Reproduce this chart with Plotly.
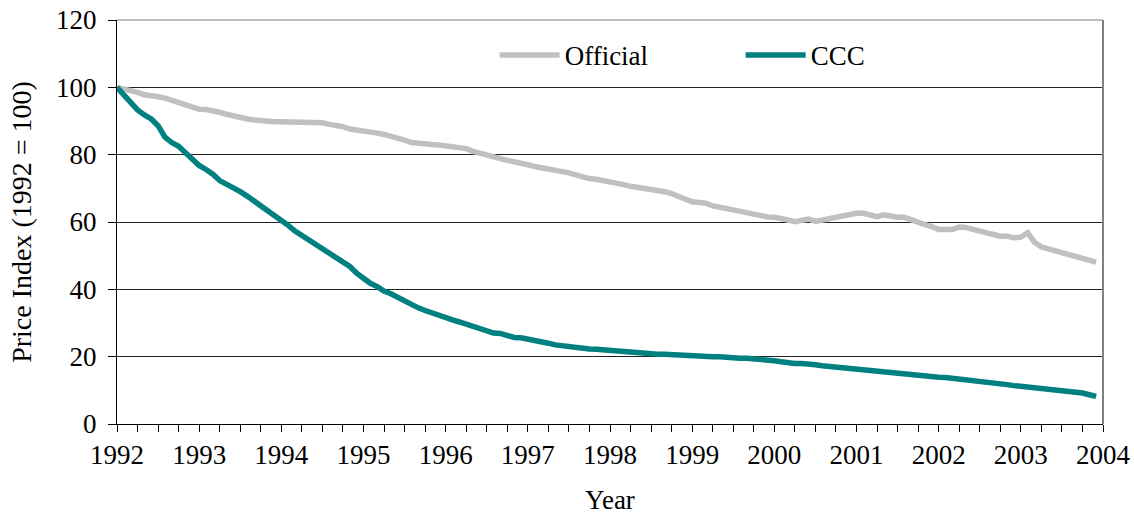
import plotly.graph_objects as go

start_year = 1992
official = [
    100.0, 99.6, 99.2, 98.5, 97.8, 97.3, 97.2, 96.8, 96.2, 95.5, 95.0, 94.2,
    93.5, 93.4, 93.2, 92.6, 92.0, 91.4, 91.0, 90.6, 90.3, 90.0, 89.9, 89.8,
    89.8, 89.8, 89.8, 89.8, 89.7, 89.8, 89.5, 89.0, 88.8, 88.3, 87.6, 87.4,
    87.1, 87.0, 86.4, 86.0, 85.5, 85.2, 84.3, 83.6, 83.3, 83.1, 83.0, 82.9,
    82.6, 82.4, 82.2, 81.8, 81.0, 80.4, 79.8, 79.2, 78.8, 78.3, 77.9, 77.6,
    77.0, 76.5, 76.2, 75.9, 75.4, 75.0, 74.6, 74.0, 73.4, 72.9, 72.7, 72.4,
    71.8, 71.5, 71.1, 70.6, 70.3, 70.1, 69.8, 69.3, 69.0, 68.4, 67.5, 66.6,
    66.0, 65.8, 65.6, 64.8, 64.2, 64.0, 63.6, 63.1, 62.6, 62.2, 61.8, 61.5,
    61.4, 61.2, 60.6, 60.1, 60.4, 60.9, 60.2, 60.6, 60.9, 61.4, 62.0, 62.5,
    62.6, 62.6, 61.9, 61.6, 62.1, 61.7, 61.4, 61.4, 60.6, 59.7, 59.2, 58.6,
    57.8, 57.8, 57.8, 58.5, 58.4, 57.8, 57.3, 57.0, 56.3, 55.8, 55.8, 55.3,
    55.5, 56.8, 54.0, 52.6, 52.0, 51.4, 50.8, 50.2, 49.5, 49.2, 48.6, 48.1,
]
ccc = [
    100.0, 97.8, 95.8, 93.3, 91.8, 90.6, 88.6, 85.2, 83.6, 82.5, 80.6, 78.4,
    76.8, 75.6, 74.2, 72.3, 71.3, 70.0, 69.0, 67.7, 66.3, 64.8, 63.2, 61.8,
    60.4, 59.0, 57.3, 56.0, 54.8, 53.6, 52.0, 50.6, 49.4, 48.2, 46.8, 44.8,
    43.2, 41.8, 40.8, 39.5, 38.7, 37.6, 36.4, 35.6, 34.5, 33.7, 32.9, 32.2,
    31.6, 30.9, 30.3, 29.7, 29.1, 28.3, 27.6, 27.0, 26.9, 26.3, 25.7, 25.6,
    25.3, 24.6, 24.3, 24.0, 23.5, 23.2, 22.9, 22.7, 22.5, 22.3, 22.2, 22.0,
    21.8, 21.5, 21.3, 21.1, 21.0, 20.7, 20.7, 20.7, 20.7, 20.6, 20.2, 20.0,
    20.0, 20.0, 20.0, 20.0, 20.0, 19.7, 19.5, 19.5, 19.5, 19.4, 19.0, 18.8,
    18.8, 18.5, 18.1, 18.0, 18.0, 18.0, 17.6, 17.3, 17.1, 16.7, 16.5, 16.2,
    15.9, 15.7, 15.5, 15.4, 15.2, 15.0, 14.9, 14.7, 14.5, 14.3, 14.2, 14.1,
    13.9, 13.8, 13.6, 13.4, 13.2, 13.0, 12.8, 12.5, 12.3, 12.0, 11.7, 11.4,
    11.2, 11.0, 10.9, 10.7, 10.4, 10.2, 10.0, 9.8, 9.6, 9.2, 8.7, 8.2,
]
year_ticks = list(range(1992, 2005))
y_ticks = [0, 20, 40, 60, 80, 100, 120]

x = [start_year + i / 12 for i in range(len(official))]

FONT = "Liberation Serif, Times New Roman, serif"

fig = go.Figure()
fig.add_trace(go.Scatter(x=x, y=official, mode="lines", name="Official",
                         line=dict(color="#C0C0C0", width=5.5)))
fig.add_trace(go.Scatter(x=x, y=ccc, mode="lines", name="CCC",
                         line=dict(color="#008080", width=5.5)))

fig.update_layout(
    width=1134, height=515,
    margin=dict(l=117, r=31, t=20, b=91, autoexpand=False),
    paper_bgcolor="white", plot_bgcolor="white",
    font=dict(family=FONT, size=27, color="black"),
    showlegend=True,
    legend=dict(orientation="h", x=0.383, y=0.973, xanchor="left", yanchor="top",
                font=dict(size=27), entrywidth=171, bgcolor="rgba(0,0,0,0)",
                itemwidth=60),
    xaxis=dict(
        range=[1992, 2004], tickmode="array", tickvals=year_ticks,
        ticktext=[str(v) for v in year_ticks], automargin=False,
        showgrid=False, zeroline=False,
        showline=True, linecolor="black", linewidth=1,
        ticks="outside", ticklen=7, tickcolor="black",
        minor=dict(dtick=0.25, tick0=1992, ticks="outside", ticklen=7,
                   tickcolor="black", showgrid=False),
        title=dict(text="Year", font=dict(size=27), standoff=27),
        tickfont=dict(size=27),
    ),
    yaxis=dict(
        range=[0, 120], tickmode="array", tickvals=y_ticks, automargin=False,
        showgrid=True, gridcolor="#222222", gridwidth=1, zeroline=False,
        showline=True, linecolor="black", linewidth=1,
        ticks="outside", ticklen=8, tickcolor="black", ticklabelstandoff=6,
        title=dict(text="Price Index (1992 = 100)", font=dict(size=28), standoff=16),
        tickfont=dict(size=27),
    ),
)
# right and top plot border (gray)
fig.add_shape(type="line", xref="paper", yref="paper", x0=1, x1=1, y0=0, y1=1,
              line=dict(color="#808080", width=2))
fig.add_shape(type="line", xref="paper", yref="paper", x0=0, x1=1, y0=1, y1=1,
              line=dict(color="#808080", width=1))

fig.write_html("out.html", config={"displayModeBar": False},
               post_script="document.body.style.margin='0';")
